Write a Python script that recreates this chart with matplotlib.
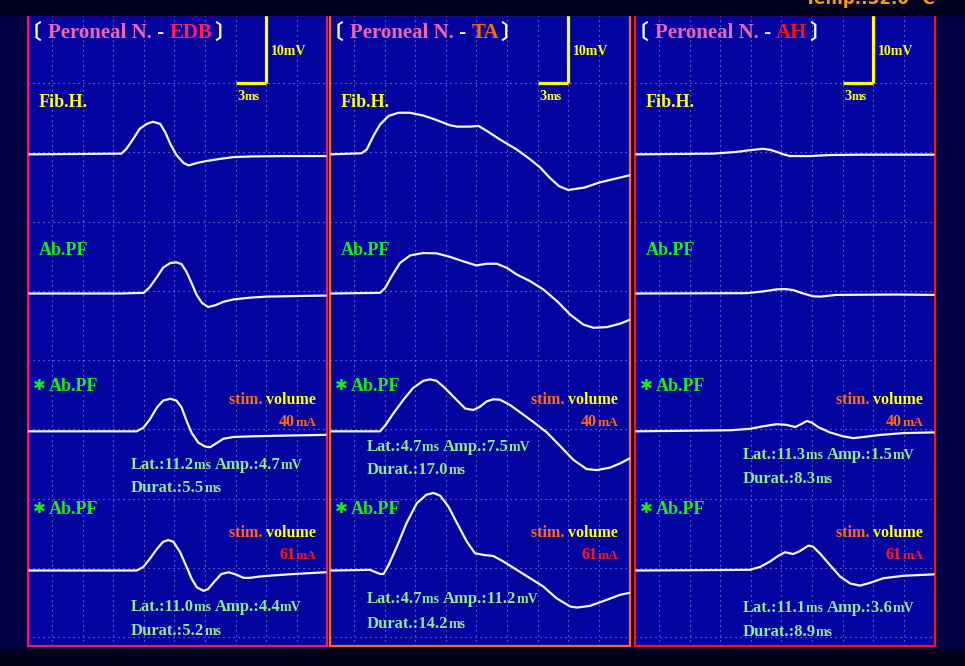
import matplotlib
matplotlib.use("Agg")
import matplotlib.pyplot as plt
import matplotlib.transforms as mtransforms
import numpy as np

# ---- recordings: time (ms) and amplitude above baseline (mV) ----
EDB_FIB_T = [-2.2, 6.8, 7.3, 8.0, 8.6, 9.3, 9.9, 10.6, 11.1, 11.6, 12.2, 12.9, 13.4,
             14.2, 15.2, 16.5, 17.8, 19.7, 22.7, 26.8]
EDB_FIB_V = [0.0, 0.1, 0.8, 2.3, 3.7, 4.4, 4.7, 4.4, 3.2, 1.5, -0.1, -1.25, -1.6,
             -1.25, -0.95, -0.65, -0.4, -0.3, -0.25, -0.25]
EDB_AB_T = [-2.2, 6.7, 9.0, 9.6, 10.3, 10.9, 11.6, 12.2, 12.7, 13.2, 13.7, 14.2, 14.7,
            15.3, 16.0, 16.8, 17.8, 19.4, 21.0, 24.3, 26.8]
EDB_AB_V = [0.0, 0.0, 0.1, 0.95, 2.4, 3.75, 4.4, 4.5, 4.25, 3.1, 1.45, -0.25, -1.35,
            -1.95, -1.7, -1.2, -0.85, -0.6, -0.45, -0.35, -0.3]
EDB_40_T = [-2.3, 8.3, 8.95, 9.6, 10.3, 10.9, 11.6, 12.2, 12.7, 13.2, 13.7, 14.35, 15.0,
            15.5, 16.1, 16.8, 17.8, 19.7, 23.0, 26.8]
EDB_40_V = [0.0, 0.0, 0.5, 1.7, 3.4, 4.35, 4.6, 4.35, 3.4, 1.45, -0.25, -1.6, -2.15,
            -2.25, -1.7, -1.05, -0.8, -0.7, -0.6, -0.5]
EDB_61_T = [-2.2, 8.3, 8.95, 9.6, 10.3, 10.9, 11.4, 11.9, 12.55, 13.2, 13.7, 14.2, 14.85,
            15.3, 16.0, 16.6, 17.3, 17.9, 18.8, 19.4, 20.4, 21.7, 23.7, 26.8]
EDB_61_V = [0.0, 0.0, 0.5, 1.7, 3.1, 4.1, 4.35, 4.1, 2.65, 0.5, -1.2, -2.4, -2.9,
            -2.65, -1.45, -0.5, -0.25, -0.5, -1.05, -1.05, -0.85, -0.7, -0.5, -0.25]

TA_FIB_T = [-2.2, 0.75, 1.25, 1.9, 2.55, 3.4, 4.35, 5.5, 6.8, 8.1, 9.4, 10.1, 11.4, 12.2,
            13.0, 14.3, 15.95, 17.25, 18.25, 19.2, 20.1, 21.0, 22.6, 24.1, 27.1]
TA_FIB_V = [0.0, 0.15, 0.7, 2.65, 4.3, 5.55, 6.0, 6.0, 5.6, 4.95, 4.2, 4.0, 4.0, 4.1,
            3.4, 2.15, 0.7, -0.7, -1.9, -3.4, -4.6, -5.15, -4.8, -4.05, -3.0]
TA_AB_T = [-2.2, 2.55, 3.05, 3.7, 4.5, 5.5, 6.8, 8.1, 9.4, 10.7, 12.0, 13.0, 14.0, 15.0,
           15.95, 17.25, 18.55, 19.9, 21.2, 22.5, 23.5, 24.8, 26.1, 27.1]
TA_AB_V = [0.0, 0.1, 0.8, 2.5, 4.4, 5.5, 5.85, 5.8, 5.3, 4.65, 4.05, 4.3, 4.3, 3.7,
           2.75, 1.8, 0.6, -1.1, -3.05, -4.5, -4.95, -4.85, -4.35, -3.75]
TA_40_T = [-2.2, 2.55, 3.05, 3.85, 4.85, 5.8, 6.8, 7.45, 8.1, 8.9, 9.9, 10.9, 11.7, 12.35,
           13.0, 13.65, 14.3, 15.3, 16.45, 17.6, 18.9, 20.2, 21.5, 22.8, 23.8, 25.1,
           26.1, 27.1]
TA_40_V = [0.0, 0.0, 0.8, 2.5, 4.45, 6.1, 7.1, 7.3, 7.1, 6.1, 4.65, 3.2, 3.0, 3.45,
           4.2, 4.5, 4.45, 3.7, 2.5, 1.3, -0.15, -2.05, -4.0, -5.3, -5.45, -5.1,
           -4.5, -3.75]
TA_61_T = [-2.2, 1.55, 2.55, 2.9, 3.4, 4.2, 5.15, 6.15, 7.1, 7.8, 8.45, 9.25, 10.1, 11.05,
           11.85, 12.7, 13.65, 14.65, 15.95, 17.25, 18.55, 19.85, 21.2, 21.85, 23.15,
           24.75, 26.1, 27.1]
TA_61_V = [0.0, 0.1, -0.5, -0.5, 0.8, 3.45, 6.85, 9.7, 10.95, 11.2, 10.8, 9.25, 6.85,
           4.2, 2.5, 2.25, 2.1, 1.3, 0.1, -1.1, -2.3, -4.0, -5.2, -5.35, -5.1,
           -4.25, -3.5, -3.2]

AH_FIB_T = [-2.2, 5.3, 7.6, 8.9, 10.2, 10.9, 11.55, 12.2, 12.85, 14.8, 16.75, 20.0, 26.9]
AH_FIB_V = [0.0, 0.1, 0.35, 0.6, 0.8, 0.65, 0.35, 0.0, -0.25, -0.25, -0.1, -0.05, -0.05]
AH_AB_T = [-2.2, 8.6, 10.2, 11.55, 12.35, 13.15, 14.15, 15.1, 15.8, 17.4, 23.3, 26.9]
AH_AB_V = [0.0, 0.05, 0.3, 0.6, 0.65, 0.5, 0.0, -0.4, -0.45, -0.2, -0.15, -0.2]
AH_40_T = [-2.2, 7.0, 8.9, 10.2, 11.55, 12.5, 13.35, 14.0, 14.5, 15.0, 15.6, 16.75,
           18.05, 19.05, 20.0, 21.7, 23.95, 26.9]
AH_40_V = [0.0, 0.15, 0.35, 0.7, 1.0, 0.9, 0.6, 1.05, 1.45, 1.2, 0.6, -0.15,
           -0.7, -0.95, -0.8, -0.5, -0.25, -0.15]
AH_61_T = [-2.2, 8.9, 9.9, 10.9, 11.7, 12.35, 13.15, 13.8, 14.65, 15.1, 15.8, 16.75,
           17.75, 18.75, 19.7, 20.7, 22.0, 23.95, 26.9]
AH_61_V = [0.0, 0.1, 0.5, 1.3, 2.1, 2.6, 2.35, 2.75, 3.55, 3.4, 2.4, 0.8,
           -0.85, -1.85, -2.15, -1.75, -1.1, -0.75, -0.55]

MUSCLES = ["EDB", "TA", "AH"]
TRACES = [
    [(EDB_FIB_T, EDB_FIB_V), (EDB_AB_T, EDB_AB_V), (EDB_40_T, EDB_40_V), (EDB_61_T, EDB_61_V)],
    [(TA_FIB_T, TA_FIB_V), (TA_AB_T, TA_AB_V), (TA_40_T, TA_40_V), (TA_61_T, TA_61_V)],
    [(AH_FIB_T, AH_FIB_V), (AH_AB_T, AH_AB_V), (AH_40_T, AH_40_V), (AH_61_T, AH_61_V)],
]
ROW_LABELS = ["Fib.H.", "Ab.PF", "Ab.PF", "Ab.PF"]
STIM = ["40", "61"]
LATENCY = [["11.2", "11.0"], ["4.7", "4.7"], ["11.3", "11.1"]]
AMPLITUDE = [["4.7", "4.4"], ["7.5", "11.2"], ["1.5", "3.6"]]
DURATION = [["5.5", "5.2"], ["17.0", "14.2"], ["8.3", "8.9"]]

# ---- look ----
W_PX, H_PX = 965, 666
PX_MS = 10.2          # pixels per ms
PX_MV = 6.925         # pixels per mV
TOP, BOTTOM = 15, 646
PANEL_X = [(28, 327), (330, 630), (635, 935)]
FRAME = ["#ec1a66", "#ff6a0a", "#ff1212"]
CODE_COLOR = ["#ff1f5f", "#ff6a00", "#ff1010"]
BASELINES = [-10.3, -30.4, -50.3, -70.4]
SERIF = "Liberation Serif"
CJK = "Noto Sans CJK JP"
YELLOW = "#ffff1a"
GREEN = "#1aee1a"
PALE = "#90e890"
ORANGE = "#ff6a1a"

fig = plt.figure(figsize=(W_PX / 100, H_PX / 100), dpi=100)
fig.patch.set_facecolor("#000044")
fig.patches.append(plt.Rectangle((0, 1 - TOP / H_PX), 1, TOP / H_PX,
                                 transform=fig.transFigure, color="#00001e", zorder=0))
fig.patches.append(plt.Rectangle((0, 0), 1, (H_PX - BOTTOM - 3) / H_PX,
                                 transform=fig.transFigure, color="#000018", zorder=0))
renderer = fig.canvas.get_renderer()


def write(ax, x, y, parts, ha="left"):
    """Put a row of text pieces on a panel; x is px from panel left, y is px baseline from figure top."""
    texts = []
    for s, color, size, family in parts:
        t = ax.text(0, 1, s, color=color, fontsize=size, family=family,
                    fontweight="bold", va="baseline", ha="left",
                    transform=ax.transAxes, clip_on=False)
        texts.append(t)
    widths = [t.get_window_extent(renderer).width for t in texts]
    cur = x - sum(widths) if ha == "right" else x
    for t, w in zip(texts, widths):
        t.set_transform(mtransforms.offset_copy(ax.transAxes, fig=fig, x=cur,
                                                y=-(y - TOP), units="dots"))
        cur += w
    return cur


lat_x = [103, 37, 108]
lat_y = [[469, 492, 611, 635], [451, 474, 603, 628], [459, 483, 612, 636]]

for i, (x0, x1) in enumerate(PANEL_X):
    ax = fig.add_axes([x0 / W_PX, 1 - BOTTOM / H_PX, (x1 - x0) / W_PX, (BOTTOM - TOP) / H_PX])
    ax.set_facecolor("#0303a0")
    top_mv = (83 - TOP) / PX_MV
    ax.set_xlim(-24 / PX_MS, (x1 - x0 - 24) / PX_MS)
    ax.set_ylim(top_mv - (BOTTOM - TOP) / PX_MV, top_mv)
    ax.set_xticks([])
    ax.set_yticks([])
    for sp in ax.spines.values():
        sp.set_color(FRAME[i])
        sp.set_linewidth(1.6)

    # dotted graticule: 3 ms by 10 mV
    for gx in np.arange(0, 25, 3):
        ax.axvline(gx, color="#a8a8e0", lw=0.8, ls=(0, (1, 3.5)), alpha=0.85, zorder=1)
    for gy in np.arange(0, -81, -10):
        ax.axhline(gy, color="#a8a8e0", lw=0.8, ls=(0, (1, 3.5)), alpha=0.85, zorder=1)

    # calibration bar
    ax.plot([21, 21], [0, top_mv], color=YELLOW, lw=2.3, solid_capstyle="butt", zorder=3)
    ax.plot([18, 21], [0, 0], color=YELLOW, lw=2.3, solid_capstyle="butt", zorder=3)
    write(ax, 243, 55, [("10mV", YELLOW, 10, SERIF)])
    write(ax, 209, 100, [("3", YELLOW, 10.5, SERIF), ("ms", YELLOW, 9, SERIF)])

    # header
    write(ax, -7, 39, [("〔", "white", 15, CJK)])
    end = write(ax, 20, 38, [("Peroneal N.", "#f064b4", 15, SERIF), (" - ", "white", 15, SERIF),
                             (MUSCLES[i], CODE_COLOR[i], 15, SERIF)])
    write(ax, end + 2, 39, [("〕", "white", 15, CJK)])

    # traces
    for r, (t, v) in enumerate(TRACES[i]):
        v = np.asarray(v, dtype=float)
        if r >= 2:
            v = v * float(AMPLITUDE[i][r - 2]) / v.max()
        ax.plot(t, BASELINES[r] + v, color="#f4f4f4", lw=1.6, zorder=4,
                solid_joinstyle="round")

    # row labels
    write(ax, 11, 107, [(ROW_LABELS[0], YELLOW, 13, SERIF)])
    write(ax, 11, 255, [(ROW_LABELS[1], GREEN, 13, SERIF)])
    for k, yb in enumerate([391, 514]):
        write(ax, 5, yb - 1, [("✱", GREEN, 11, "DejaVu Sans")])
        write(ax, 21, yb, [(ROW_LABELS[2 + k], GREEN, 13, SERIF)])

        sy = [404, 537][k]
        write(ax, 288, sy, [("stim. ", ORANGE, 11.5, SERIF), ("volume", YELLOW, 11.5, SERIF)],
              ha="right")
        cur_color = [ORANGE, "#ff1a1a"][k]
        write(ax, 288, sy + 22, [(STIM[k], cur_color, 11.5, SERIF), ("mA", cur_color, 9.5, SERIF)],
              ha="right")

        ly = lat_y[i][2 * k]
        dy = lat_y[i][2 * k + 1]
        write(ax, lat_x[i], ly, [("Lat.:" + LATENCY[i][k], PALE, 12, SERIF),
                                 ("ms ", PALE, 10, SERIF),
                                 ("Amp.:" + AMPLITUDE[i][k], PALE, 12, SERIF),
                                 ("mV", PALE, 10, SERIF)])
        write(ax, lat_x[i], dy, [("Durat.:" + DURATION[i][k], PALE, 12, SERIF),
                                 ("ms", PALE, 10, SERIF)])

fig.text(935 / W_PX, 1 - 4 / H_PX, "Temp.:32.0 ℃", color="#ff9a10", fontsize=12,
         fontweight="bold", ha="right", va="baseline", family="DejaVu Sans")

fig.savefig("out.png", dpi=100, facecolor=fig.get_facecolor())
